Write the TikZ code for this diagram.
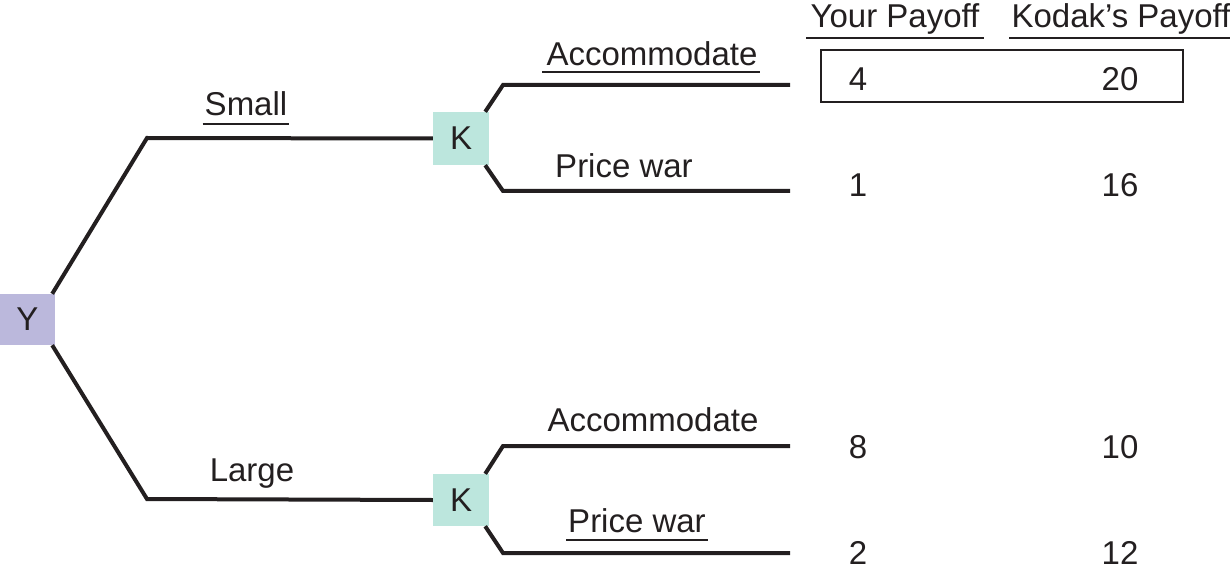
\documentclass[tikz,border=0pt]{standalone}
\usepackage{fontspec}
\setmainfont{Liberation Sans}
\definecolor{ink}{HTML}{231F20}
\definecolor{ycol}{HTML}{BBB8DC}
\definecolor{kcol}{HTML}{BCE6DD}
\begin{document}
\begin{tikzpicture}[x=1pt,y=-1pt,
  txt/.style={font=\fontsize{33}{40}\selectfont, text=ink, inner sep=0pt, anchor=base},
  branch/.style={draw=ink, line width=4pt, line join=miter},
  ul/.style={draw=ink, line width=1.6pt},
  decision/.style={inner sep=0pt, font=\fontsize{33}{40}\selectfont, text=ink}]
\useasboundingbox (0,0) rectangle (1230,569);
% decision nodes
\node[decision, fill=ycol, minimum width=55pt, minimum height=51pt] (Y) at (27.5,319.5) {Y};
\node[decision, fill=kcol, minimum width=56pt, minimum height=53pt] (K1) at (461,138.5) {K};
\node[decision, fill=kcol, minimum width=56pt, minimum height=52pt] (K2) at (461,500) {K};
% bends and ends
\coordinate (s1) at (147,138);
\coordinate (l1) at (147,499);
\coordinate (a1) at (503,85);
\coordinate (a1e) at (790,85);
\coordinate (p1) at (503,191);
\coordinate (p1e) at (790,191);
\coordinate (a2) at (503,446);
\coordinate (a2e) at (790,446);
\coordinate (p2) at (503,553);
\coordinate (p2e) at (790,553);
\coordinate (kpe) at (1230,38);
% branches
\draw[branch] ([xshift=-3pt]Y.north east) -- (s1) -- (K1.west);
\draw[branch] ([xshift=-3pt]Y.south east) -- (l1) -- (K2.west);
\draw[branch] ([xshift=-4pt]K1.north east) -- (a1) -- (a1e);
\draw[branch] ([xshift=-4pt]K1.south east) -- (p1) -- (p1e);
\draw[branch] ([xshift=-4pt]K2.north east) -- (a2) -- (a2e);
\draw[branch] ([xshift=-4pt]K2.south east) -- (p2) -- (p2e);
% branch labels
\node[txt] (small) at (246,116) {Small};
\draw[ul] ([xshift=-2pt,yshift=-8pt]small.base west) -- ([xshift=2pt,yshift=-8pt]small.base east);
\node[txt] (large) at (252,481) {Large};
\node[txt] (acc1) at (652,66) {Accommodate};
\draw[ul] ([xshift=-4pt,yshift=-6pt]acc1.base west) -- ([xshift=2pt,yshift=-6pt]acc1.base east);
\node[txt] (pw1) at (624,178) {Price war};
\node[txt] (acc2) at (653,431) {Accommodate};
\node[txt] (pw2) at (637,532) {Price war};
\draw[ul] ([xshift=-2pt,yshift=-8pt]pw2.base west) -- ([xshift=2pt,yshift=-8pt]pw2.base east);
% headers
\node[txt] (yp) at (895,28) {Your Payoff};
\draw[ul] ([xshift=-4pt,yshift=-10pt]yp.base west) -- ([xshift=4pt,yshift=-10pt]yp.base east);
\node[txt] (kp) at (1121,28) {Kodak’s Payoff};
\draw[ul] ([xshift=-2pt,yshift=-10pt]kp.base west) -- (kpe);
% payoffs
\node[txt] (y1) at (858,91) {4};
\node[txt] (k1) at (1120,91) {20};
\node[txt] (y2) at (858,197) {1};
\node[txt] (k2) at (1120,197) {16};
\node[txt] (y3) at (858,458) {8};
\node[txt] (k3) at (1120,458) {10};
\node[txt] (y4) at (858,564) {2};
\node[txt] (k4) at (1120,564) {12};
% equilibrium box
\node[draw=ink, line width=1.5pt, inner sep=0pt, minimum width=362pt, minimum height=52pt] (eq) at (1002,76) {};
\end{tikzpicture}
\end{document}
